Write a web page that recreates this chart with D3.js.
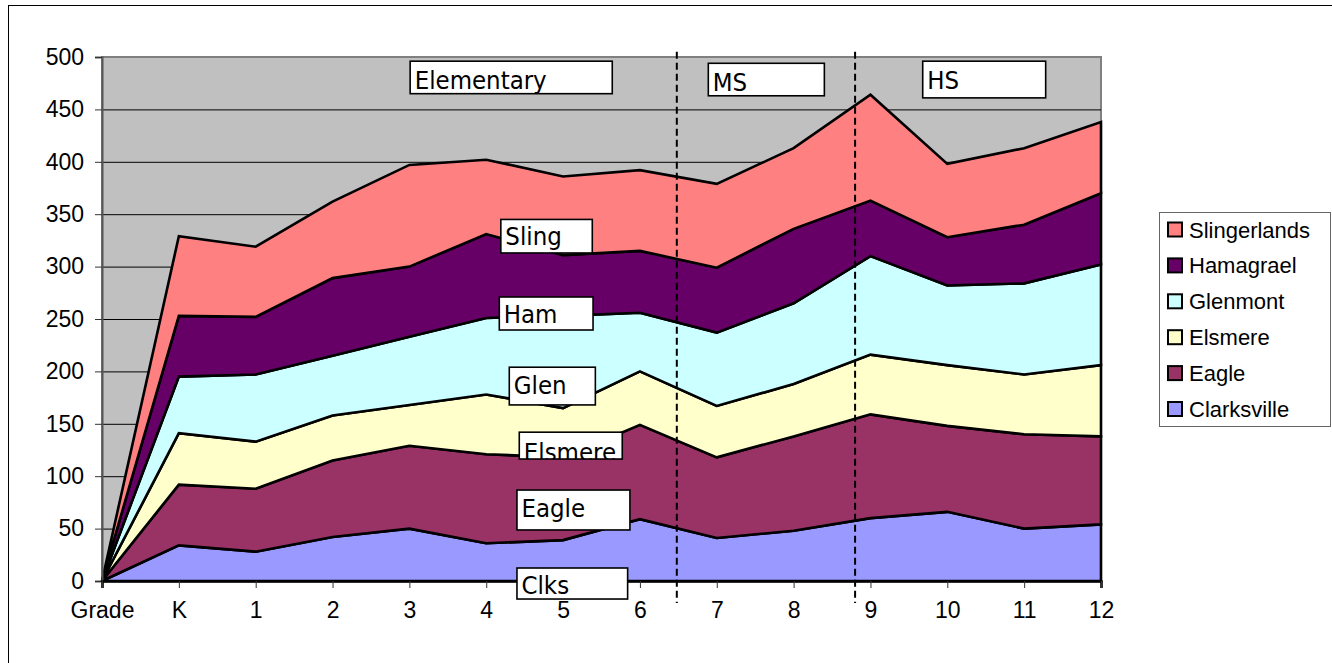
<!DOCTYPE html>
<html><head><meta charset="utf-8">
<script src="https://cdn.jsdelivr.net/npm/d3@7"></script>
<style>
html,body{margin:0;padding:0;background:#fff;}
svg{display:block;}
</style></head>
<body>
<svg id="chart" width="1332" height="663"></svg>
<script>
// ---- data ----
const categories = ["Grade","K","1","2","3","4","5","6","7","8","9","10","11","12"];
const clarksville  = [0,34,28,42,50,36,39,59,41,48,60,66,50,54];
const eagle        = [0,58,60,73,79,85,79,90,77,90,99,82,90,84];
const elsmere      = [0,49,45,43,39,57,47,51,49,50,57,58,57,68];
const glenmont     = [0,54,64,57,65,73,88,56,70,77,94,76,87,96];
const hamagrael    = [0,58,55,74,67,80,58,59,62,71,53,46,56,68];
const slingerlands = [0,76,67,73,97,71,75,77,80,77,101,70,73,68];
const seriesNames  = ["Clarksville","Eagle","Elsmere","Glenmont","Hamagrael","Slingerlands"];
const seriesValues = [clarksville, eagle, elsmere, glenmont, hamagrael, slingerlands];
const seriesColors = ["#9999FF","#993366","#FFFFCC","#CCFFFF","#660066","#FF8080"];
const yTicks = [0,50,100,150,200,250,300,350,400,450,500];
// annotation labels: [text, x0 (category index), x1, yTop (value), yBottom (value), baseline (value)]
const annotations = [
  ["Elementary", 4.01, 6.64, 496, 465, 469.5],
  ["MS",         7.89, 9.40, 494, 463, 467.6],
  ["HS",        10.68,12.28, 496, 461, 469.5],
  ["Sling",      5.19, 6.38, 345, 313, 320.6],
  ["Ham",        5.17, 6.39, 271, 239.5, 245.9],
  ["Glen",       5.30, 6.42, 204, 168, 178.1],
  ["Elsmere",    5.43, 6.77, 142, 116.4, 114.5],
  ["Eagle",      5.40, 6.87, 86.8, 48.7, 61.4],
  ["Clks",       5.40, 6.84, 12.4, -17.2, -12.7]
];
// dividers between school levels (category index)
const dividers = [7.48, 9.80];

// ---- layout ----
const svg = d3.select("#chart");
const L = 102, R = 1101, T = 57, B = 581;
const x = d3.scalePoint().domain(categories).range([L, R]).padding(0);
const xi = d3.scaleLinear().domain([0, categories.length - 1]).range([L, R]);
const y = d3.scaleLinear().domain([0, 500]).range([B, T]);
const axisFont = "'Liberation Sans', Arial, sans-serif";
const labelFont = "'DejaVu Sans Condensed', 'DejaVu Sans', sans-serif";

// outer border
svg.append("rect").attr("x", 8.5).attr("y", 5.5).attr("width", 1400).attr("height", 800)
  .attr("fill", "none").attr("stroke", "#000").attr("stroke-width", 1);

// plot area
svg.append("rect").attr("x", L).attr("y", T).attr("width", R - L).attr("height", B - T)
  .attr("fill", "#C0C0C0").attr("stroke", "#808080").attr("stroke-width", 2);

// gridlines
svg.append("g").selectAll("line").data(yTicks.filter(d => d > 0 && d < 500)).join("line")
  .attr("x1", L).attr("x2", R).attr("y1", d => y(d) + 0.5).attr("y2", d => y(d) + 0.5)
  .attr("stroke", "#000").attr("stroke-width", 1);

// stacked areas
const rows = categories.map((c, i) => {
  const r = { cat: c };
  seriesNames.forEach((s, k) => r[s] = seriesValues[k][i]);
  return r;
});
const stack = d3.stack().keys(seriesNames)(rows);
const area = d3.area().x(d => x(d.data.cat)).y0(d => y(d[0])).y1(d => y(d[1]));
svg.append("g").selectAll("path").data(stack).join("path")
  .attr("d", area)
  .attr("fill", (d, i) => seriesColors[i])
  .attr("stroke", "#000").attr("stroke-width", 2.6).attr("stroke-linejoin", "miter");

// y axis
const yAxis = d3.axisLeft(y).tickValues(yTicks).tickSize(7).tickPadding(11);
const gy = svg.append("g").attr("transform", `translate(${L},0)`).call(yAxis);
gy.select(".domain").attr("stroke", "#555").attr("stroke-width", 2);
gy.selectAll(".tick line").attr("stroke", "#333");
gy.selectAll(".tick text").attr("font-family", axisFont).attr("font-size", 23).attr("fill", "#000");

// x axis
const xAxis = d3.axisBottom(x).tickSize(7).tickPadding(14);
const gx = svg.append("g").attr("transform", `translate(0,${B})`).call(xAxis);
gx.select(".domain").attr("stroke", "#000").attr("stroke-width", 2.6);
gx.selectAll(".tick line").attr("stroke", "#333");
gx.selectAll(".tick text").attr("font-family", axisFont).attr("font-size", 23).attr("fill", "#000");

// dashed dividers
svg.append("g").selectAll("line").data(dividers).join("line")
  .attr("x1", d => xi(d)).attr("x2", d => xi(d))
  .attr("y1", y(505)).attr("y2", y(-21))
  .attr("stroke", "#000").attr("stroke-width", 2).attr("stroke-dasharray", "7,4");

// annotation boxes
const defs = svg.append("defs");
const ag = svg.append("g");
annotations.forEach((a, i) => {
  const [txt, x0, x1, yt, yb, bl] = a;
  const bx = xi(x0), bw = xi(x1) - xi(x0), by = y(yt), bh = y(yb) - y(yt);
  defs.append("clipPath").attr("id", "clip" + i).append("rect")
    .attr("x", bx).attr("y", by).attr("width", bw).attr("height", bh);
  ag.append("rect").attr("x", bx).attr("y", by).attr("width", bw).attr("height", bh)
    .attr("fill", "#fff").attr("stroke", "#000").attr("stroke-width", 1.6);
  ag.append("text").attr("x", bx + 4.5).attr("y", y(bl))
    .attr("clip-path", `url(#clip${i})`)
    .attr("font-family", labelFont).attr("font-size", 25.5).attr("fill", "#000")
    .text(txt);
});

// legend
const lg = svg.append("g");
lg.append("rect").attr("x", 1159.5).attr("y", 212.5).attr("width", 171).attr("height", 214)
  .attr("fill", "#fff").attr("stroke", "#666").attr("stroke-width", 1);
const legendOrder = seriesNames.map((n, i) => i).reverse();
legendOrder.forEach((k, j) => {
  const cy = 229.5 + j * 35.9;
  lg.append("rect").attr("x", 1168).attr("y", cy - 7).attr("width", 14).attr("height", 14)
    .attr("fill", seriesColors[k]).attr("stroke", "#000").attr("stroke-width", 2);
  lg.append("text").attr("x", 1189).attr("y", cy + 8)
    .attr("font-family", axisFont).attr("font-size", 22).attr("fill", "#000")
    .text(seriesNames[k]);
});
</script>
</body></html>
